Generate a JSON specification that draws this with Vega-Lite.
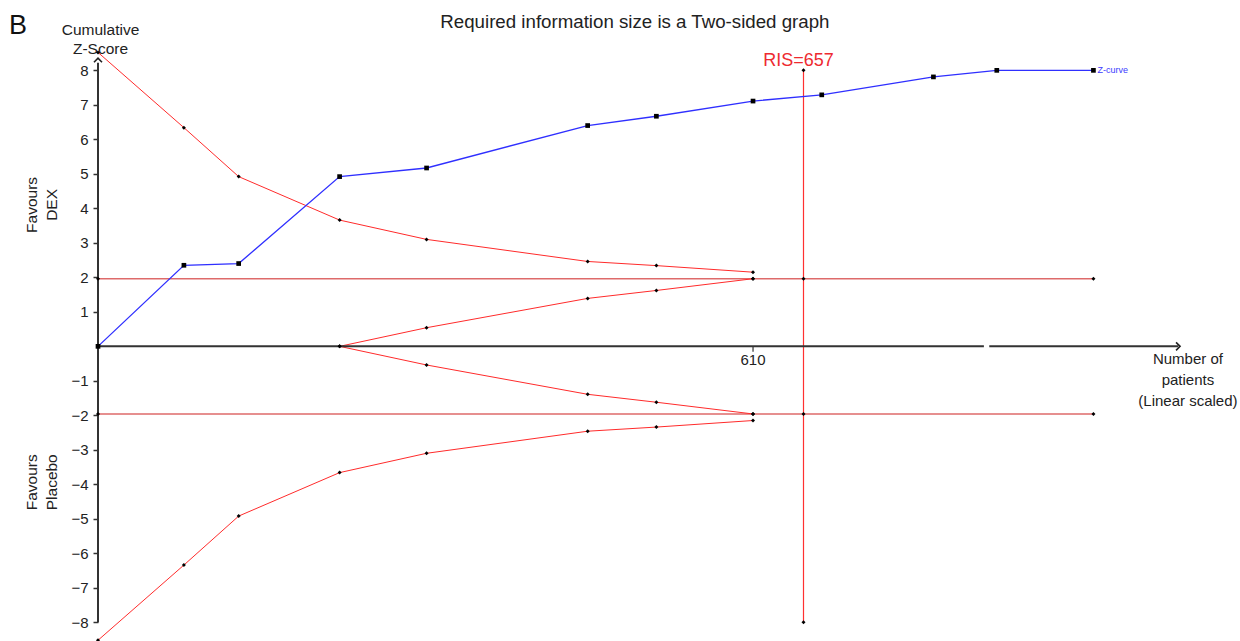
{
  "$schema": "https://vega.github.io/schema/vega-lite/v6.json",
  "width": 1142,
  "height": 600,
  "autosize": "none",
  "padding": {"left": 98, "top": 40, "right": 0, "bottom": 1},
  "background": "white",
  "config": {"view": {"stroke": null}, "font": "Liberation Sans"},
  "datasets": {
    "curves": [
      {"n": 0, "z": 8.52, "curve": "upper"},
      {"n": 80, "z": 6.34, "curve": "upper"},
      {"n": 131, "z": 4.92, "curve": "upper"},
      {"n": 225, "z": 3.66, "curve": "upper"},
      {"n": 306, "z": 3.1, "curve": "upper"},
      {"n": 456, "z": 2.46, "curve": "upper"},
      {"n": 520, "z": 2.34, "curve": "upper"},
      {"n": 610, "z": 2.15, "curve": "upper"},
      {"n": 0, "z": -8.52, "curve": "lower"},
      {"n": 80, "z": -6.34, "curve": "lower"},
      {"n": 131, "z": -4.92, "curve": "lower"},
      {"n": 225, "z": -3.66, "curve": "lower"},
      {"n": 306, "z": -3.1, "curve": "lower"},
      {"n": 456, "z": -2.46, "curve": "lower"},
      {"n": 520, "z": -2.34, "curve": "lower"},
      {"n": 610, "z": -2.15, "curve": "lower"},
      {"n": 225, "z": 0, "curve": "futility-up"},
      {"n": 306, "z": 0.54, "curve": "futility-up"},
      {"n": 456, "z": 1.39, "curve": "futility-up"},
      {"n": 520, "z": 1.62, "curve": "futility-up"},
      {"n": 610, "z": 1.96, "curve": "futility-up"},
      {"n": 225, "z": 0, "curve": "futility-down"},
      {"n": 306, "z": -0.54, "curve": "futility-down"},
      {"n": 456, "z": -1.39, "curve": "futility-down"},
      {"n": 520, "z": -1.62, "curve": "futility-down"},
      {"n": 610, "z": -1.96, "curve": "futility-down"}
    ],
    "conventional": [
      {"n": 0, "z": 1.96, "side": "benefit"},
      {"n": 610, "z": 1.96, "side": "benefit"},
      {"n": 657, "z": 1.96, "side": "benefit"},
      {"n": 927, "z": 1.96, "side": "benefit"},
      {"n": 0, "z": -1.96, "side": "harm"},
      {"n": 610, "z": -1.96, "side": "harm"},
      {"n": 657, "z": -1.96, "side": "harm"},
      {"n": 927, "z": -1.96, "side": "harm"}
    ],
    "zcurve": [
      {"n": 0, "z": 0},
      {"n": 80, "z": 2.35},
      {"n": 131, "z": 2.4},
      {"n": 225, "z": 4.92},
      {"n": 306, "z": 5.17},
      {"n": 456, "z": 6.4},
      {"n": 520, "z": 6.67},
      {"n": 610, "z": 7.11},
      {"n": 674, "z": 7.29},
      {"n": 778, "z": 7.81},
      {"n": 837, "z": 8.0},
      {"n": 927, "z": 8.0}
    ],
    "ris": [{"n": 657, "z": -8, "z2": 8}],
    "risEnds": [{"n": 657, "z": 8}, {"n": 657, "z": -8}],
    "xAxisLine": [
      {"n": 0, "n2": 825, "z": 0},
      {"n": 830, "n2": 1006, "z": 0}
    ],
    "yAxisLine": [{"n": 0, "z": -8, "z2": 8.22}]
  },
  "encoding": {
    "x": {
      "field": "n",
      "type": "quantitative",
      "scale": {"domain": [0, 1063.5], "nice": false, "zero": false},
      "axis": null
    },
    "y": {
      "field": "z",
      "type": "quantitative",
      "scale": {"domain": [-8.512, 8.88], "nice": false, "zero": false},
      "axis": {
        "values": [-8, -7, -6, -5, -4, -3, -2, -1, 1, 2, 3, 4, 5, 6, 7, 8],
        "format": "d",
        "domain": false,
        "grid": false,
        "tickSize": 5,
        "tickWidth": 1.5,
        "tickColor": "#333",
        "labelFont": "Liberation Sans",
        "labelFontSize": 15,
        "labelColor": "#222",
        "labelPadding": 5,
        "title": ["Cumulative", "Z-Score"],
        "titleFont": "Liberation Sans",
        "titleAngle": 0,
        "titleAlign": "center",
        "titleBaseline": "bottom",
        "titleX": 2,
        "titleY": -3,
        "titleFontSize": 15.5,
        "titleFontWeight": "normal",
        "titleColor": "#222",
        "titleLineHeight": 19
      }
    }
  },
  "layer": [
    {
      "data": {"name": "conventional"},
      "mark": {"type": "line", "stroke": "#de6a6a", "strokeWidth": 1.5},
      "encoding": {"detail": {"field": "side"}}
    },
    {
      "data": {"name": "curves"},
      "mark": {"type": "line", "stroke": "#ff2b2b", "strokeWidth": 1},
      "encoding": {"detail": {"field": "curve"}}
    },
    {
      "data": {"name": "ris"},
      "mark": {"type": "rule", "stroke": "#ff3030", "strokeWidth": 1.2},
      "encoding": {"y2": {"field": "z2"}}
    },
    {
      "data": {"name": "zcurve"},
      "mark": {"type": "line", "stroke": "#2f2fff", "strokeWidth": 1.3},
      "encoding": {}
    },
    {
      "data": {"name": "xAxisLine"},
      "mark": {"type": "rule", "stroke": "#333", "strokeWidth": 2},
      "encoding": {"x2": {"field": "n2"}}
    },
    {
      "data": {"name": "yAxisLine"},
      "mark": {"type": "rule", "stroke": "#333", "strokeWidth": 2},
      "encoding": {"y2": {"field": "z2"}}
    },
    {
      "data": {"values": [{"n": 0, "z": 8.3}]},
      "mark": {"type": "point", "shape": "M-1,0.55L0,-0.45L1,0.55", "filled": false, "stroke": "#222", "strokeWidth": 1.6, "size": 64, "opacity": 1},
      "encoding": {}
    },
    {
      "data": {"values": [{"n": 1006, "z": 0}]},
      "mark": {"type": "point", "shape": "M-0.55,-1L0.45,0L-0.55,1", "filled": false, "stroke": "#222", "strokeWidth": 1.6, "size": 64, "opacity": 1},
      "encoding": {}
    },
    {
      "data": {"values": [{"n": 610, "z": 0, "z2": -0.16}]},
      "mark": {"type": "rule", "stroke": "#333", "strokeWidth": 1.2},
      "encoding": {"y2": {"field": "z2"}}
    },
    {
      "data": {"name": "curves"},
      "mark": {"type": "point", "shape": "diamond", "filled": true, "color": "#000", "size": 16, "opacity": 1},
      "encoding": {}
    },
    {
      "data": {"name": "conventional"},
      "mark": {"type": "point", "shape": "diamond", "filled": true, "color": "#000", "size": 16, "opacity": 1},
      "encoding": {}
    },
    {
      "data": {"name": "risEnds"},
      "mark": {"type": "point", "shape": "diamond", "filled": true, "color": "#000", "size": 16, "opacity": 1},
      "encoding": {}
    },
    {
      "data": {"name": "zcurve"},
      "mark": {"type": "point", "shape": "square", "filled": true, "color": "#000", "size": 22, "opacity": 1},
      "encoding": {}
    },
    {
      "data": {"values": [{"n": 500, "z": 9.23, "label": "Required information size is a Two-sided graph"}]},
      "mark": {"type": "text", "align": "center", "baseline": "alphabetic", "fontSize": 18.7, "color": "#222", "font": "Liberation Sans"},
      "encoding": {"text": {"field": "label"}}
    },
    {
      "data": {"values": [{"n": 610, "z": 0, "label": "610"}]},
      "mark": {"type": "text", "baseline": "top", "dy": 7, "fontSize": 15, "color": "#222", "font": "Liberation Sans"},
      "encoding": {"text": {"field": "label"}}
    },
    {
      "data": {"values": [{"n": 657, "z": 8, "label": "RIS=657"}]},
      "mark": {"type": "text", "baseline": "alphabetic", "dy": -4, "dx": -5, "fontSize": 18, "color": "#ee2a30", "font": "Liberation Sans"},
      "encoding": {"text": {"field": "label"}}
    },
    {
      "data": {"values": [{"n": 927, "z": 8, "label": "Z-curve"}]},
      "mark": {"type": "text", "align": "left", "baseline": "middle", "dx": 4, "fontSize": 9, "color": "#3b3bff", "font": "Liberation Sans"},
      "encoding": {"text": {"field": "label"}}
    },
    {
      "data": {"values": [{"n": 1015, "z": 0, "label": ["Number of", "patients", "(Linear scaled)"]}]},
      "mark": {"type": "text", "align": "center", "baseline": "top", "dy": 6, "fontSize": 15, "lineHeight": 21, "color": "#222", "font": "Liberation Sans"},
      "encoding": {"text": {"field": "label"}}
    },
    {
      "data": {"values": [
        {"n": -61, "z": 4.1, "label": ["Favours", "DEX"]},
        {"n": -61, "z": -3.94, "label": ["Favours", "Placebo"]}
      ]},
      "mark": {"type": "text", "align": "center", "baseline": "middle", "angle": 270, "fontSize": 15.5, "lineHeight": 20, "color": "#222", "font": "Liberation Sans"},
      "encoding": {"text": {"field": "label"}}
    },
    {
      "data": {"values": [{"n": -74.5, "z": 9.28, "label": "B"}]},
      "mark": {"type": "text", "align": "center", "baseline": "middle", "fontSize": 27, "color": "#111", "font": "Liberation Sans"},
      "encoding": {"text": {"field": "label"}}
    }
  ]
}
